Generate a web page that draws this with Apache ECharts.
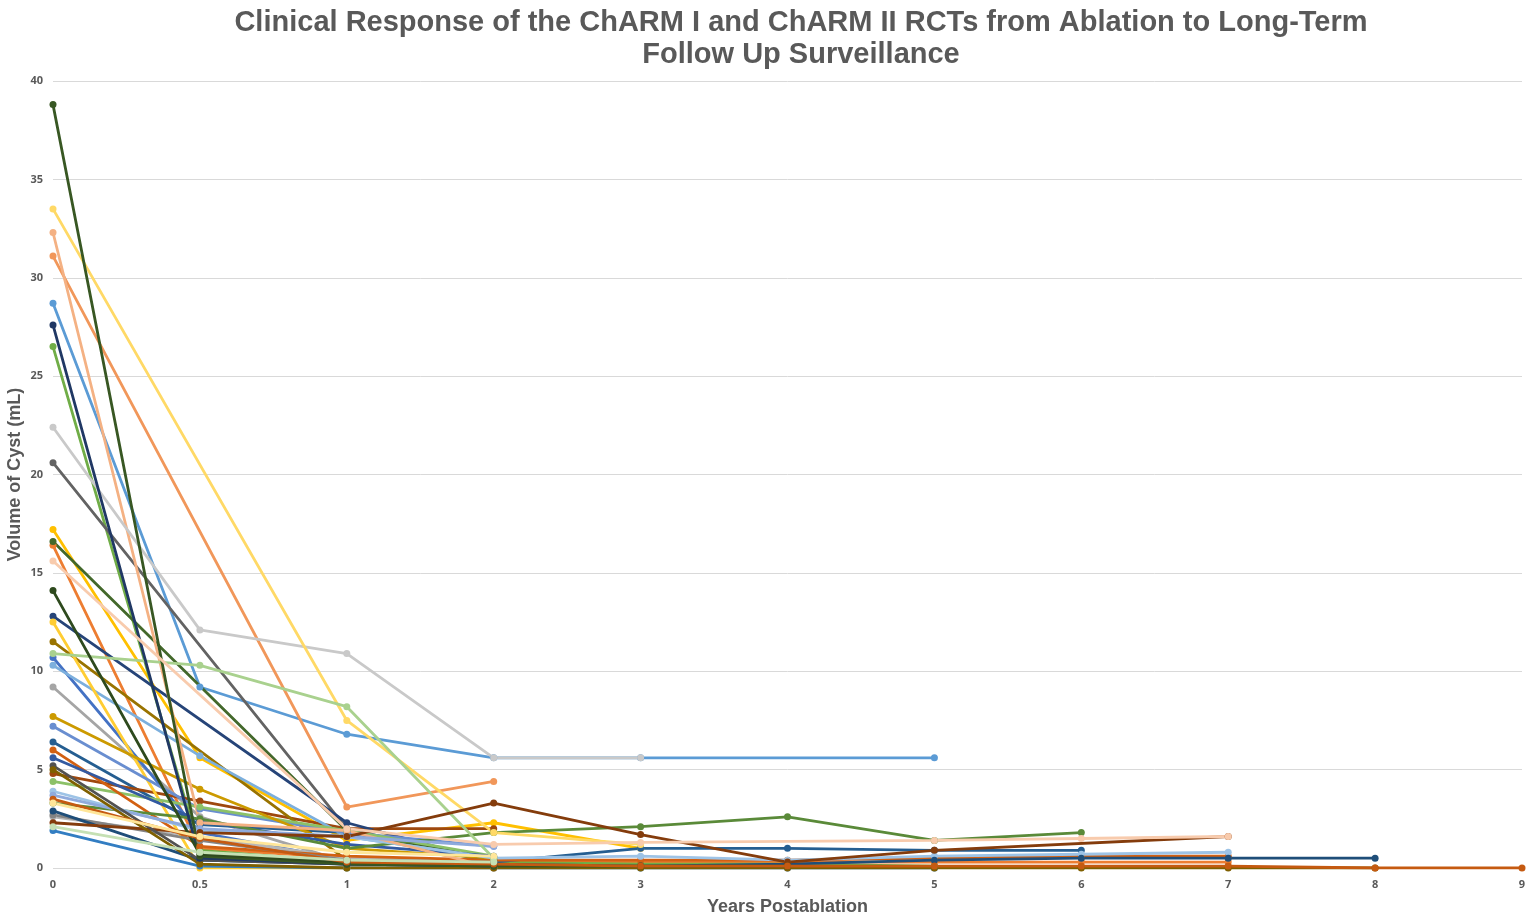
<!DOCTYPE html>
<html>
<head>
<meta charset="utf-8">
<script src="https://cdn.jsdelivr.net/npm/echarts@6/dist/echarts.min.js"></script>
<style>html,body{margin:0;padding:0;background:#fff;}#c{width:1530px;height:919px;}</style>
</head>
<body>
<div id="c"></div>
<script>
var categories = ['0','0.5','1','2','3','4','5','6','7','8','9'];
var yTicks = [0,5,10,15,20,25,30,35,40];

var s1  = [28.7, 9.2, 6.8, 5.6, 5.6, null, 5.6];
var s2  = [16.4, 1.0, 0.5, 0.4, 0.3, 0.3, 0.3, 0.3, 0.3];
var s3  = [9.2, 2.6, 0.3, 0.2];
var s4  = [17.2, 5.6, 1.4, 2.3, 1.0];
var s5  = [10.7, 1.8, 0.4, 0.3];
var s6  = [26.5, 0.9, 0.3, 0.3, 0.2, 0.2, 0.1];
var s7  = [6.4, 2.2, 1.8, 0.3, 1.0, 1.0, 0.9, 0.9];
var s8  = [4.8, 3.4, 2.0, 2.0];
var s9  = [20.6, null, 2.0, 0.3];
var s10 = [11.5, null, 0.4, 0.1];
var s11 = [12.8, null, 2.3, 0.3];
var s12 = [16.6, null, 1.9, 0.4];
var s13 = [10.3, 5.7, 1.6, 0.5];
var s14 = [31.1, null, 3.1, 4.4];
var s15 = [2.6, 1.6, 0.5, 0.3];
var s16 = [12.5, 0.0, 0.0];
var s17 = [7.2, 3.0, 1.8, 1.1];
var s18 = [4.4, 3.1, 1.9, 0.6];
var s19 = [1.9, 0.1, 0.0, 0.0, 0.0, 0.0, 0.0];
var s20 = [6.0, 1.1, 0.6, 0.4, 0.4, 0.4, 0.5, 0.6, 0.6];
var s21 = [2.7, 1.4, 0.4, 0.3];
var s22 = [7.7, 4.0, 1.0, 0.5];
var s23 = [5.6, 2.4, 1.2, 0.6];
var s24 = [3.3, 2.5, 1.0, 1.8, 2.1, 2.6, 1.4, 1.8];
var s25 = [3.9, 1.9, 1.6, 0.5, 0.6, 0.4, 0.6, 0.7, 0.8];
var s26 = [32.3, 2.3, 1.9, 0.0];
var s27 = [22.4, 12.1, 10.9, 5.6, 5.6];
var s28 = [33.5, null, 7.5, 1.8, 1.2];
var s29 = [3.7, 2.0, 1.6, 1.1];
var s30 = [10.9, 10.3, 8.2, 0.5];
var s31 = [2.9, 0.4, 0.2, 0.2, 0.1, 0.2, 0.4, 0.5, 0.5, 0.5];
var s32 = [2.3, 1.8, 1.6, 3.3, 1.7, 0.3, 0.9, null, 1.6];
var s33 = [5.2, 0.4, 0.2, 0.1];
var s34 = [5.0, 0.2, 0.0, 0.0, 0.0, 0.0, 0.0, 0.0, 0.0, 0.0];
var s35 = [27.6, 0.5, 0.2, 0.1];
var s36 = [38.8, 0.6, 0.2, 0.1, 0.1, 0.1];
var s37 = [14.1, 0.7, 0.3, 0.2];
var s38 = [15.6, null, 2.0, 1.2, 1.3, null, 1.4, 1.5, 1.6];
var s39 = [3.5, 1.5, 0.3, 0.2, 0.1, 0.1, 0.1, 0.1, 0.1, 0.0, 0.0];
var s40 = [3.3, 1.6, 0.8, 0.6];
var s41 = [2.1, 0.8, 0.4, 0.3];

var seriesData = [s1,s2,s3,s4,s5,s6,s7,s8,s9,s10,s11,s12,s13,s14,s15,s16,s17,s18,s19,s20,s21,s22,s23,s24,s25,s26,s27,s28,s29,s30,s31,s32,s33,s34,s35,s36,s37,s38,s39,s40,s41];
var colors = ['#5B9BD5','#ED7D31','#A5A5A5','#FFC000','#4472C4','#70AD47','#255E91','#9E480E','#636363','#997300','#264478','#43682B','#7CAFDD','#F1975A','#B7B7B7','#FFCD33','#698ED0','#8CC168','#327DC2','#D26012','#848484','#CC9A00','#335AA1','#5A8A39','#9DC3E6','#F4B183','#C9C9C9','#FFD966','#8FAADC','#A9D18E','#1F4E79','#843C0C','#525252','#7F6000','#203864','#385723','#2E4A1E','#F8CBAD','#C55A11','#FFE699','#C5E0B4'];

var chart = echarts.init(document.getElementById('c'));
var series = seriesData.map(function(d, i){
  return {
    type: 'line',
    name: 'Patient ' + (i+1),
    data: d,
    connectNulls: true,
    symbol: 'circle',
    symbolSize: 7,
    lineStyle: {width: 2.8, color: colors[i]},
    itemStyle: {color: colors[i]},
    animation: false
  };
});

chart.setOption({
  animation: false,
  title: {
    text: 'Clinical Response of the ChARM I and ChARM II RCTs from Ablation to Long-Term\nFollow Up Surveillance',
    left: 796, top: 2, textAlign: 'center',
    textStyle: {fontFamily: 'Liberation Sans, Arial', fontWeight: 'bold', fontSize: 29, color: '#595959', lineHeight: 32}
  },
  grid: {left: 53, right: 8, top: 81, bottom: 51, containLabel: false, outerBoundsMode: 'none'},
  xAxis: {
    type: 'category', data: categories, boundaryGap: false,
    name: 'Years Postablation', nameLocation: 'middle', nameGap: 30,
    nameTextStyle: {fontFamily: 'Liberation Sans, Arial', fontWeight: 'bold', fontSize: 18, color: '#595959'},
    axisLine: {show: false}, axisTick: {show: false},
    axisLabel: {fontFamily: 'Open Sans, Liberation Sans', fontSize: 11, fontWeight: 'bold', color: '#595959', margin: 11},
    splitLine: {show: false}
  },
  yAxis: {
    type: 'value', min: 0, max: 40, interval: 5,
    name: 'Volume of Cyst (mL)', nameLocation: 'middle', nameGap: 29, nameMoveOverlap: false,
    nameTextStyle: {fontFamily: 'Liberation Sans, Arial', fontWeight: 'bold', fontSize: 18, color: '#595959'},
    axisLine: {show: false}, axisTick: {show: false},
    axisLabel: {fontFamily: 'Open Sans, Liberation Sans', fontSize: 11, fontWeight: 'bold', color: '#595959', margin: 10,
      formatter: function(v){ return yTicks.indexOf(v) >= 0 ? String(v) : ''; }},
    splitLine: {lineStyle: {color: '#D9D9D9', width: 1}}
  },
  series: series
});
</script>
</body>
</html>
